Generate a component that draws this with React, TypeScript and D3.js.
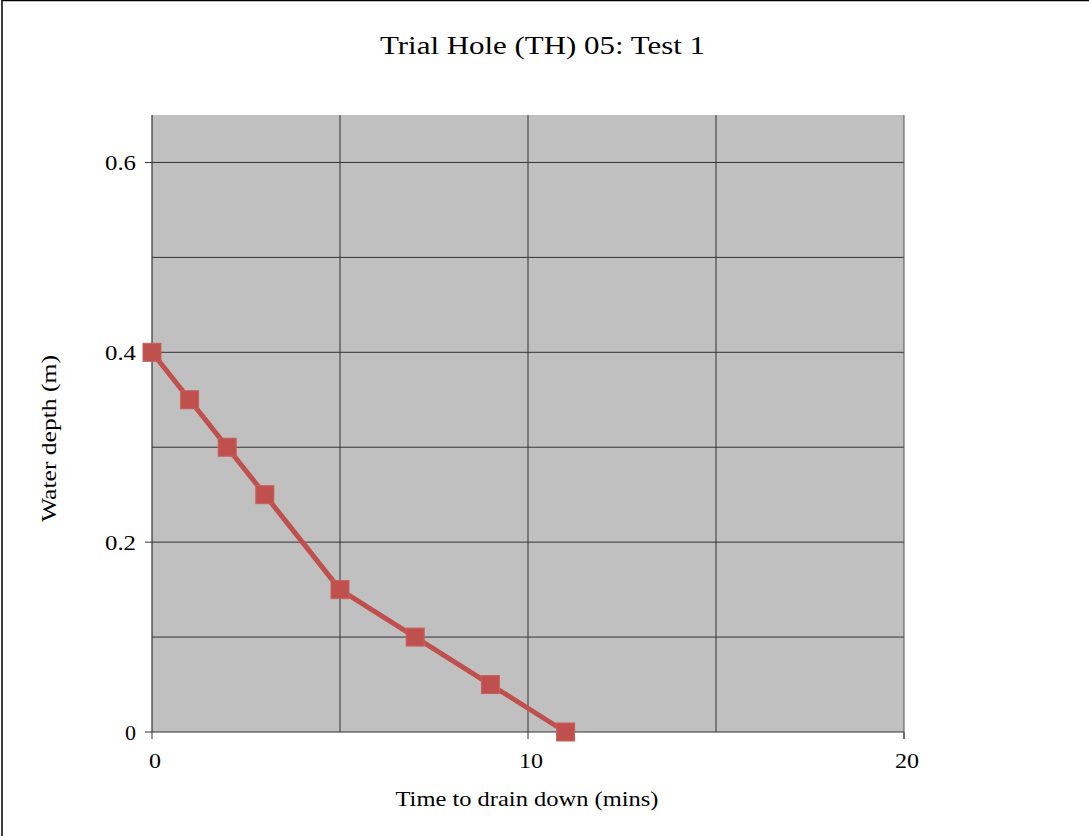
import React from "react";
import * as d3 from "d3";

const times: number[] = [0, 1, 2, 3, 5, 7, 9, 11];
const depths: number[] = [0.4, 0.35, 0.3, 0.25, 0.15, 0.1, 0.05, 0];
const xTicks: number[] = [0, 10, 20];
const xGrid: number[] = [5, 10, 15];
const yTicks: number[] = [0, 0.2, 0.4, 0.6];
const yGrid: number[] = [0.1, 0.2, 0.3, 0.4, 0.5, 0.6];
const title = "Trial Hole (TH) 05: Test 1";
const xLabel = "Time to drain down (mins)";
const yLabel = "Water depth (m)";

const W = 1089;
const H = 836;
const L = 152, R = 904, T = 115, B = 732;
const font = "'Liberation Serif', 'Times New Roman', serif";
const red = "#C0504D";

export default function App() {
  const x = d3.scaleLinear().domain([0, 20]).range([L, R]);
  const y = d3.scaleLinear().domain([0, 0.65]).range([B, T]);
  const line = d3.line<number>().x((_, i) => x(times[i])).y((d) => y(d));
  const ms = 18;
  const fmt = d3.format("");
  return (
    <svg width={W} height={H} style={{ position: "absolute", left: 0, top: 0 }} fontFamily={font}>
      <rect x={0} y={0} width={W} height={H} fill="#fff" />
      <rect x={2} y={0.5} width={W + 10} height={H + 10} fill="none" stroke="#000" strokeWidth={1.5} />
      <text x={542.5} y={54} textAnchor="middle" fontSize={25} fill="#000" textLength={325} lengthAdjust="spacingAndGlyphs">{title}</text>
      <rect x={L} y={T} width={R - L} height={B - T} fill="#C0C0C0" />
      {yGrid.map((v) => (
        <line key={"yg" + v} x1={L} x2={R} y1={y(v)} y2={y(v)} stroke="#333" strokeWidth={1} />
      ))}
      {xGrid.map((v) => (
        <line key={"xg" + v} x1={x(v)} x2={x(v)} y1={T} y2={B} stroke="#333" strokeWidth={1} />
      ))}
      <line x1={L} x2={L} y1={T} y2={B} stroke="#333" strokeWidth={1.2} />
      <line x1={R} x2={R} y1={T} y2={B + 7} stroke="#555" strokeWidth={1} />
      <line x1={L} x2={R} y1={B} y2={B} stroke="#333" strokeWidth={1.2} />
      {yTicks.map((v) => {
        const s = fmt(v);
        return (
          <g key={"yt" + v}>
            <line x1={L - 7} x2={L} y1={y(v)} y2={y(v)} stroke="#333" strokeWidth={1} />
            <text x={136} y={y(v) + 8} textAnchor="end" fontSize={21} fill="#000" textLength={s.length === 1 ? 11 : 31} lengthAdjust="spacingAndGlyphs">{s}</text>
          </g>
        );
      })}
      {xTicks.map((v) => {
        const s = String(v);
        return (
          <g key={"xt" + v}>
            <line x1={x(v)} x2={x(v)} y1={B} y2={B + 7} stroke="#333" strokeWidth={1} />
            <text x={x(v) + 3} y={768} textAnchor="middle" fontSize={21} fill="#000" textLength={s.length === 1 ? 12 : 24} lengthAdjust="spacingAndGlyphs">{s}</text>
          </g>
        );
      })}
      <text x={527} y={806} textAnchor="middle" fontSize={21} fill="#000" textLength={263} lengthAdjust="spacingAndGlyphs">{xLabel}</text>
      <text transform={`translate(56, 438.5) rotate(-90)`} textAnchor="middle" fontSize={21} fill="#000" textLength={167} lengthAdjust="spacingAndGlyphs">{yLabel}</text>
      <path d={line(depths) || ""} fill="none" stroke={red} strokeWidth={5} strokeLinejoin="round" />
      {depths.map((d, i) => (
        <rect key={"m" + i} x={x(times[i]) - ms / 2} y={y(d) - ms / 2} width={ms} height={ms} fill={red} stroke="#C8605C" strokeWidth={1} />
      ))}
    </svg>
  );
}
